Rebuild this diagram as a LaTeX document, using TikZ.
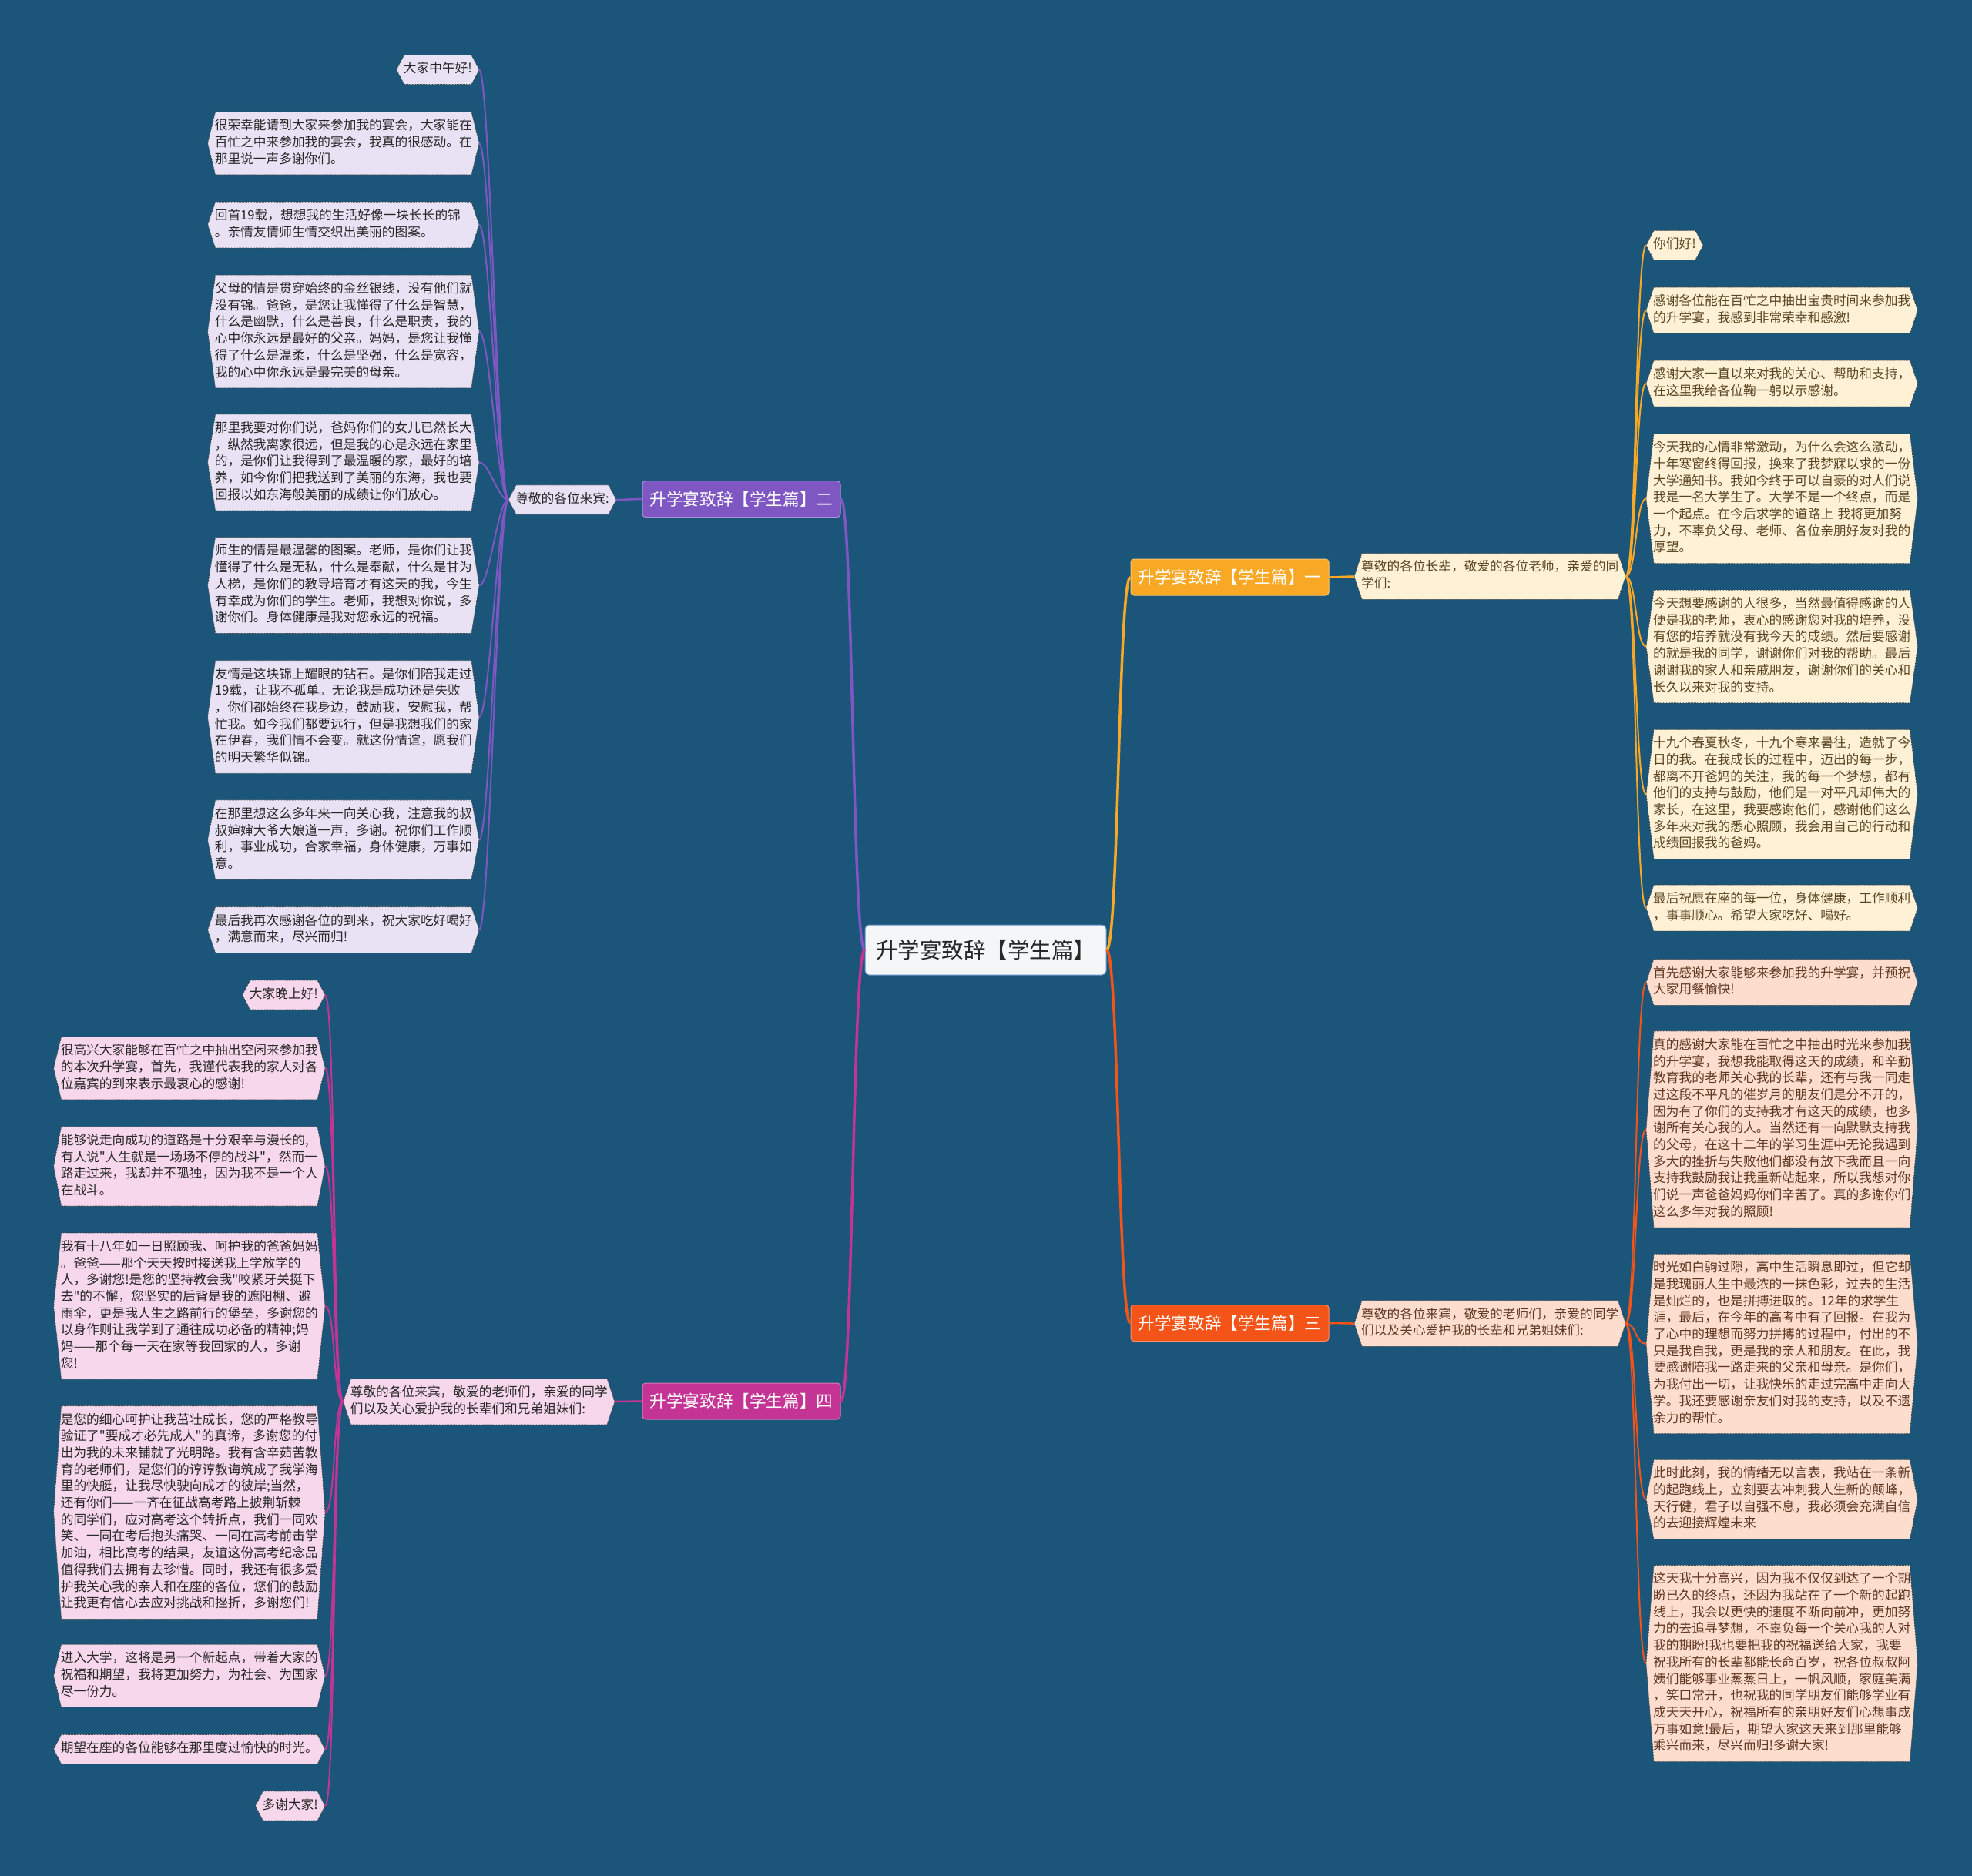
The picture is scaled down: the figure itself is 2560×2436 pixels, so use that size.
\documentclass[tikz,border=0pt]{standalone}
\usepackage{fontspec}
\newfontfamily\cjkfont{Noto Sans CJK SC}
\usetikzlibrary{calc}

\definecolor{bgblue}{RGB}{27,85,121}
\definecolor{purpleB}{RGB}{126,87,194}
\definecolor{purpleL}{RGB}{232,226,244}
\definecolor{magentaB}{RGB}{196,52,148}
\definecolor{magentaL}{RGB}{247,215,236}
\definecolor{orangeB}{RGB}{249,168,37}
\definecolor{orangeL}{RGB}{255,241,214}
\definecolor{redB}{RGB}{244,84,24}
\definecolor{redL}{RGB}{253,222,206}
\definecolor{txtdark}{RGB}{40,40,40}
\definecolor{txtbrown}{RGB}{90,70,35}
\definecolor{txtrust}{RGB}{95,55,35}
\definecolor{rootfill}{RGB}{244,246,248}
\definecolor{rootline}{RGB}{91,142,197}

\pgfdeclarelayer{bottom}
\pgfdeclarelayer{background}
\pgfsetlayers{bottom,background,main}

\newcommand{\leaffont}{\fontsize{16.7}{21.7}\cjkfont}
\newcommand{\branchfont}{\fontsize{21.6}{26}\cjkfont}
\newcommand{\rootfont}{\fontsize{28.5}{34}\cjkfont}

% connector: colour, from, to, line width, bend
\newcommand{\link}[5]{%
  \draw[#1, line width=#4] (#2) .. controls +(#5,0) and +({-1*(#5)},0) .. (#3);}

\tikzset{
  hexline/.style={draw=black!75, line width=0.8pt, dash pattern=on 1pt off 1pt},
  leaf/.style={font=\leaffont, align=left, inner xsep=9pt, inner ysep=8pt,
    execute at begin node=\strut, execute at end node=\strut,
    append after command={\pgfextra{\begin{pgfonlayer}{background}
      \path[hexline, fill=#1] (\tikzlastnode.west)
        -- ([xshift=10pt]\tikzlastnode.north west) -- ([xshift=-10pt]\tikzlastnode.north east)
        -- (\tikzlastnode.east)
        -- ([xshift=-10pt]\tikzlastnode.south east) -- ([xshift=10pt]\tikzlastnode.south west)
        -- cycle;
      \end{pgfonlayer}}}},
  wide/.style={text width=334pt},
  purpleleaf/.style={leaf=purpleL, text=txtdark},
  pinkleaf/.style={leaf=magentaL, text=txtdark},
  creamleaf/.style={leaf=orangeL, text=txtbrown},
  peachleaf/.style={leaf=redL, text=txtrust},
  branch/.style={font=\branchfont, text=white, fill=#1, draw=white!35!#1, line width=1pt,
    rounded corners=4pt, minimum width=257pt, minimum height=47pt, inner sep=0pt},
  rootbox/.style={font=\rootfont, text=txtdark, fill=rootfill, draw=rootline, line width=1pt,
    rounded corners=5pt, minimum width=313pt, minimum height=65pt, inner sep=0pt}
}

\begin{document}
\begin{tikzpicture}[x=1pt, y=-1pt]
    % Background
    \begin{pgfonlayer}{bottom}
      \fill[bgblue] (0,0) rectangle (2560,2436);
    \end{pgfonlayer}
    \useasboundingbox (0,0) rectangle (2560,2436);

    % Centre
    \node[rootbox] (root) at (1279.5,1233.5) {升学宴致辞【学生篇】};

    % Branch two (upper left)
    \node[branch=purpleB] (b2) at (962.5,648) {升学宴致辞【学生篇】二};
    \node[purpleleaf, anchor=east] (p2) at (800,649) {尊敬的各位来宾:};
    \node[purpleleaf, anchor=east] (l1) at (622,90.5) {大家中午好!};
    \node[purpleleaf, wide, anchor=east] (l2) at (622,186) {很荣幸能请到大家来参加我的宴会，大家能在\\百忙之中来参加我的宴会，我真的很感动。在\\那里说一声多谢你们。};
    \node[purpleleaf, wide, anchor=east] (l3) at (622,292) {回首19载，想想我的生活好像一块长长的锦\\。亲情友情师生情交织出美丽的图案。};
    \node[purpleleaf, wide, anchor=east] (l4) at (622,430.5) {父母的情是贯穿始终的金丝银线，没有他们就\\没有锦。爸爸，是您让我懂得了什么是智慧，\\什么是幽默，什么是善良，什么是职责，我的\\心中你永远是最好的父亲。妈妈，是您让我懂\\得了什么是温柔，什么是坚强，什么是宽容，\\我的心中你永远是最完美的母亲。};
    \node[purpleleaf, wide, anchor=east] (l5) at (622,600.5) {那里我要对你们说，爸妈你们的女儿已然长大\\，纵然我离家很远，但是我的心是永远在家里\\的，是你们让我得到了最温暖的家，最好的培\\养，如今你们把我送到了美丽的东海，我也要\\回报以如东海般美丽的成绩让你们放心。};
    \node[purpleleaf, wide, anchor=east] (l6) at (622,760) {师生的情是最温馨的图案。老师，是你们让我\\懂得了什么是无私，什么是奉献，什么是甘为\\人梯，是你们的教导培育才有这天的我，今生\\有幸成为你们的学生。老师，我想对你说，多\\谢你们。身体健康是我对您永远的祝福。};
    \node[purpleleaf, wide, anchor=east] (l7) at (622,931) {友情是这块锦上耀眼的钻石。是你们陪我走过\\19载，让我不孤单。无论我是成功还是失败\\，你们都始终在我身边，鼓励我，安慰我，帮\\忙我。如今我们都要远行，但是我想我们的家\\在伊春，我们情不会变。就这份情谊，愿我们\\的明天繁华似锦。};
    \node[purpleleaf, wide, anchor=east] (l8) at (622,1090.5) {在那里想这么多年来一向关心我，注意我的叔\\叔婶婶大爷大娘道一声，多谢。祝你们工作顺\\利，事业成功，合家幸福，身体健康，万事如\\意。};
    \node[purpleleaf, wide, anchor=east] (l9) at (622,1207.5) {最后我再次感谢各位的到来，祝大家吃好喝好\\，满意而来，尽兴而归!};

    % Branch four (lower left)
    \node[branch=magentaB] (b4) at (962.5,1819.5) {升学宴致辞【学生篇】四};
    \node[pinkleaf, wide, anchor=east] (p4) at (798,1820) {尊敬的各位来宾，敬爱的老师们，亲爱的同学\\们以及关心爱护我的长辈们和兄弟姐妹们:};
    \node[pinkleaf, anchor=east] (m1) at (422,1292) {大家晚上好!};
    \node[pinkleaf, wide, anchor=east] (m2) at (422,1387) {很高兴大家能够在百忙之中抽出空闲来参加我\\的本次升学宴，首先，我谨代表我的家人对各\\位嘉宾的到来表示最衷心的感谢!};
    \node[pinkleaf, wide, anchor=east] (m3) at (422,1514.5) {能够说走向成功的道路是十分艰辛与漫长的,\\有人说"人生就是一场场不停的战斗"，然而一\\路走过来，我却并不孤独，因为我不是一个人\\在战斗。};
    \node[pinkleaf, wide, anchor=east] (m4) at (422,1696) {我有十八年如一日照顾我、呵护我的爸爸妈妈\\。爸爸——那个天天按时接送我上学放学的\\人，多谢您!是您的坚持教会我"咬紧牙关挺下\\去"的不懈，您坚实的后背是我的遮阳棚、避\\雨伞，更是我人生之路前行的堡垒，多谢您的\\以身作则让我学到了通往成功必备的精神;妈\\妈——那个每一天在家等我回家的人，多谢\\您!};
    \node[pinkleaf, wide, anchor=east] (m5) at (422,1964) {是您的细心呵护让我茁壮成长，您的严格教导\\验证了"要成才必先成人"的真谛，多谢您的付\\出为我的未来铺就了光明路。我有含辛茹苦教\\育的老师们，是您们的谆谆教诲筑成了我学海\\里的快艇，让我尽快驶向成才的彼岸;当然，\\还有你们——一齐在征战高考路上披荆斩棘\\的同学们，应对高考这个转折点，我们一同欢\\笑、一同在考后抱头痛哭、一同在高考前击掌\\加油，相比高考的结果，友谊这份高考纪念品\\值得我们去拥有去珍惜。同时，我还有很多爱\\护我关心我的亲人和在座的各位，您们的鼓励\\让我更有信心去应对挑战和挫折，多谢您们!};
    \node[pinkleaf, wide, anchor=east] (m6) at (422,2176) {进入大学，这将是另一个新起点，带着大家的\\祝福和期望，我将更加努力，为社会、为国家\\尽一份力。};
    \node[pinkleaf, anchor=east] (m7) at (422,2271.5) {期望在座的各位能够在那里度过愉快的时光。};
    \node[pinkleaf, anchor=east] (m8) at (422,2345) {多谢大家!};

    % Branch one (upper right)
    \node[branch=orangeB] (b1) at (1596.5,749.5) {升学宴致辞【学生篇】一};
    \node[creamleaf, wide, anchor=west] (p1) at (1758,748.5) {尊敬的各位长辈，敬爱的各位老师，亲爱的同\\学们:};
    \node[creamleaf, anchor=west] (r1) at (2137,318.5) {你们好!};
    \node[creamleaf, wide, anchor=west] (r2) at (2137,403) {感谢各位能在百忙之中抽出宝贵时间来参加我\\的升学宴，我感到非常荣幸和感激!};
    \node[creamleaf, wide, anchor=west] (r3) at (2137,498) {感谢大家一直以来对我的关心、帮助和支持，\\在这里我给各位鞠一躬以示感谢。};
    \node[creamleaf, wide, anchor=west] (r4) at (2137,647.5) {今天我的心情非常激动，为什么会这么激动，\\十年寒窗终得回报，换来了我梦寐以求的一份\\大学通知书。我如今终于可以自豪的对人们说\\我是一名大学生了。大学不是一个终点，而是\\一个起点。在今后求学的道路上 我将更加努\\力，不辜负父母、老师、各位亲朋好友对我的\\厚望。};
    \node[creamleaf, wide, anchor=west] (r5) at (2137,839.5) {今天想要感谢的人很多，当然最值得感谢的人\\便是我的老师，衷心的感谢您对我的培养，没\\有您的培养就没有我今天的成绩。然后要感谢\\的就是我的同学，谢谢你们对我的帮助。最后\\谢谢我的家人和亲戚朋友，谢谢你们的关心和\\长久以来对我的支持。};
    \node[creamleaf, wide, anchor=west] (r6) at (2137,1031.5) {十九个春夏秋冬，十九个寒来暑往，造就了今\\日的我。在我成长的过程中，迈出的每一步，\\都离不开爸妈的关注，我的每一个梦想，都有\\他们的支持与鼓励，他们是一对平凡却伟大的\\家长，在这里，我要感谢他们，感谢他们这么\\多年来对我的悉心照顾，我会用自己的行动和\\成绩回报我的爸妈。};
    \node[creamleaf, wide, anchor=west] (r7) at (2137,1179) {最后祝愿在座的每一位，身体健康，工作顺利\\，事事顺心。希望大家吃好、喝好。};

    % Branch three (lower right)
    \node[branch=redB] (b3) at (1596.5,1718) {升学宴致辞【学生篇】三};
    \node[peachleaf, wide, anchor=west] (p3) at (1758,1718.5) {尊敬的各位来宾，敬爱的老师们，亲爱的同学\\们以及关心爱护我的长辈和兄弟姐妹们:};
    \node[peachleaf, wide, anchor=west] (s1) at (2137,1275.5) {首先感谢大家能够来参加我的升学宴，并预祝\\大家用餐愉快!};
    \node[peachleaf, wide, anchor=west] (s2) at (2137,1466.5) {真的感谢大家能在百忙之中抽出时光来参加我\\的升学宴，我想我能取得这天的成绩，和辛勤\\教育我的老师关心我的长辈，还有与我一同走\\过这段不平凡的催岁月的朋友们是分不开的，\\因为有了你们的支持我才有这天的成绩，也多\\谢所有关心我的人。当然还有一向默默支持我\\的父母，在这十二年的学习生涯中无论我遇到\\多大的挫折与失败他们都没有放下我而且一向\\支持我鼓励我让我重新站起来，所以我想对你\\们说一声爸爸妈妈你们辛苦了。真的多谢你们\\这么多年对我的照顾!};
    \node[peachleaf, wide, anchor=west] (s3) at (2137,1745) {时光如白驹过隙，高中生活瞬息即过，但它却\\是我瑰丽人生中最浓的一抹色彩，过去的生活\\是灿烂的，也是拼搏进取的。12年的求学生\\涯，最后，在今年的高考中有了回报。在我为\\了心中的理想而努力拼搏的过程中，付出的不\\只是我自我，更是我的亲人和朋友。在此，我\\要感谢陪我一路走来的父亲和母亲。是你们，\\为我付出一切，让我快乐的走过完高中走向大\\学。我还要感谢亲友们对我的支持，以及不遗\\余力的帮忙。};
    \node[peachleaf, wide, anchor=west] (s4) at (2137,1947) {此时此刻，我的情绪无以言表，我站在一条新\\的起跑线上，立刻要去冲刺我人生新的颠峰，\\天行健，君子以自强不息，我必须会充满自信\\的去迎接辉煌未来};
    \node[peachleaf, wide, anchor=west] (s5) at (2137,2160) {这天我十分高兴，因为我不仅仅到达了一个期\\盼已久的终点，还因为我站在了一个新的起跑\\线上，我会以更快的速度不断向前冲，更加努\\力的去追寻梦想，不辜负每一个关心我的人对\\我的期盼!我也要把我的祝福送给大家，我要\\祝我所有的长辈都能长命百岁，祝各位叔叔阿\\姨们能够事业蒸蒸日上，一帆风顺，家庭美满\\，笑口常开，也祝我的同学朋友们能够学业有\\成天天开心，祝福所有的亲朋好友们心想事成\\万事如意!最后，期望大家这天来到那里能够\\乘兴而来，尽兴而归!多谢大家!};

    % Connectors from the centre
    \link{purpleB}{root.west}{b2.east}{3.5pt}{-16}
    \link{magentaB}{root.west}{b4.east}{3.5pt}{-16}
    \link{orangeB}{root.east}{b1.west}{3.5pt}{16}
    \link{redB}{root.east}{b3.west}{3.5pt}{16}

    % Branch to greeting
    \link{purpleB}{b2.west}{p2.east}{2.5pt}{-10}
    \link{magentaB}{b4.west}{p4.east}{2.5pt}{-10}
    \link{orangeB}{b1.east}{p1.west}{2.5pt}{10}
    \link{redB}{b3.east}{p3.west}{2.5pt}{10}

    % Greeting to paragraphs
    \foreach \i in {1,...,9} {\link{purpleB}{p2.west}{l\i.east}{2pt}{-14}}
    \foreach \i in {1,...,8} {\link{magentaB}{p4.west}{m\i.east}{2pt}{-14}}
    \foreach \i in {1,...,7} {\link{orangeB}{p1.east}{r\i.west}{2pt}{14}}
    \foreach \i in {1,...,5} {\link{redB}{p3.east}{s\i.west}{2pt}{14}}
\end{tikzpicture}
\end{document}
